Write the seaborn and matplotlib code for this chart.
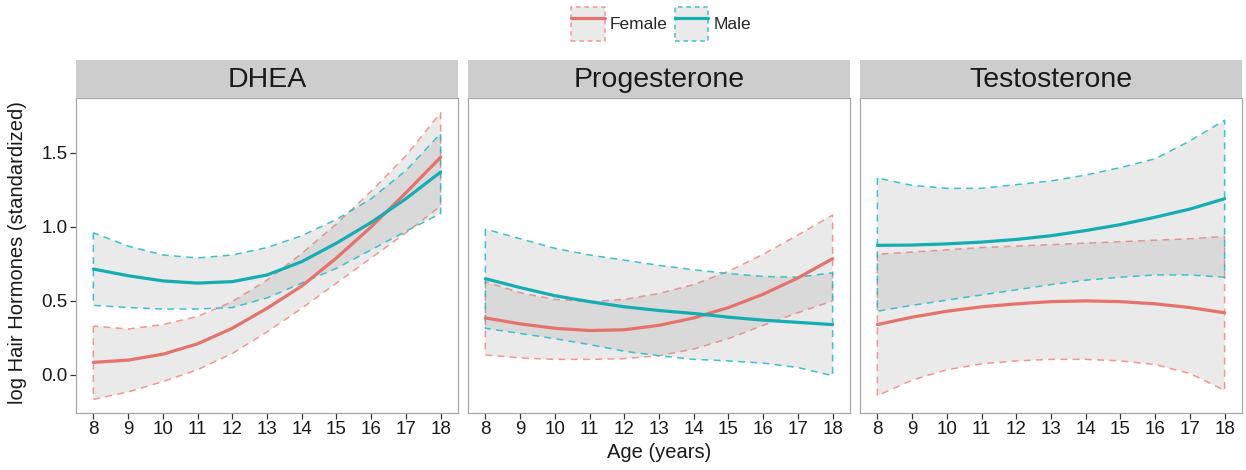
import numpy as np
import pandas as pd
import matplotlib
matplotlib.use("Agg")
import matplotlib.pyplot as plt
from matplotlib.patches import Patch
from matplotlib.lines import Line2D
import seaborn as sns

# ---------------- data ----------------
ages = [8, 9, 10, 11, 12, 13, 14, 15, 16, 17, 18]
hormones = ["DHEA", "Progesterone", "Testosterone"]
sexes = ["Female", "Male"]

# DHEA
dhea_f_mean = [0.085, 0.10, 0.14, 0.21, 0.315, 0.45, 0.60, 0.79, 1.00, 1.23, 1.47]
dhea_f_lo   = [-0.165, -0.115, -0.045, 0.035, 0.145, 0.29, 0.45, 0.62, 0.79, 0.96, 1.14]
dhea_f_hi   = [0.33, 0.31, 0.34, 0.395, 0.495, 0.64, 0.82, 1.02, 1.24, 1.48, 1.77]
dhea_m_mean = [0.715, 0.67, 0.635, 0.62, 0.63, 0.675, 0.765, 0.89, 1.03, 1.19, 1.37]
dhea_m_lo   = [0.47, 0.455, 0.445, 0.445, 0.455, 0.52, 0.62, 0.72, 0.845, 0.97, 1.09]
dhea_m_hi   = [0.96, 0.87, 0.81, 0.79, 0.81, 0.86, 0.94, 1.05, 1.19, 1.38, 1.63]

# Progesterone
prog_f_mean = [0.385, 0.345, 0.315, 0.30, 0.305, 0.335, 0.385, 0.455, 0.545, 0.655, 0.785]
prog_f_lo   = [0.135, 0.115, 0.105, 0.105, 0.11, 0.13, 0.175, 0.245, 0.335, 0.42, 0.50]
prog_f_hi   = [0.63, 0.555, 0.51, 0.495, 0.51, 0.55, 0.61, 0.70, 0.815, 0.945, 1.08]
prog_m_mean = [0.65, 0.59, 0.535, 0.495, 0.46, 0.435, 0.415, 0.39, 0.37, 0.355, 0.34]
prog_m_lo   = [0.315, 0.28, 0.245, 0.205, 0.16, 0.13, 0.105, 0.095, 0.08, 0.05, -0.005]
prog_m_hi   = [0.985, 0.92, 0.855, 0.81, 0.775, 0.74, 0.71, 0.685, 0.665, 0.66, 0.69]

# Testosterone
test_f_mean = [0.34, 0.39, 0.43, 0.46, 0.48, 0.495, 0.50, 0.495, 0.48, 0.455, 0.42]
test_f_lo   = [-0.14, -0.035, 0.035, 0.075, 0.095, 0.105, 0.105, 0.095, 0.07, 0.01, -0.105]
test_f_hi   = [0.815, 0.83, 0.845, 0.86, 0.87, 0.88, 0.89, 0.90, 0.91, 0.92, 0.935]
test_m_mean = [0.875, 0.877, 0.885, 0.897, 0.915, 0.94, 0.975, 1.015, 1.065, 1.12, 1.19]
test_m_lo   = [0.43, 0.47, 0.505, 0.54, 0.575, 0.61, 0.64, 0.66, 0.675, 0.675, 0.66]
test_m_hi   = [1.33, 1.28, 1.26, 1.26, 1.285, 1.31, 1.35, 1.40, 1.46, 1.58, 1.72]

x_ticks = [8, 9, 10, 11, 12, 13, 14, 15, 16, 17, 18]
y_ticks = [0.0, 0.5, 1.0, 1.5]
y_tick_labels = ["0.0", "0.5", "1.0", "1.5"]

series = {
    ("DHEA", "Female"): (dhea_f_mean, dhea_f_lo, dhea_f_hi),
    ("DHEA", "Male"): (dhea_m_mean, dhea_m_lo, dhea_m_hi),
    ("Progesterone", "Female"): (prog_f_mean, prog_f_lo, prog_f_hi),
    ("Progesterone", "Male"): (prog_m_mean, prog_m_lo, prog_m_hi),
    ("Testosterone", "Female"): (test_f_mean, test_f_lo, test_f_hi),
    ("Testosterone", "Male"): (test_m_mean, test_m_lo, test_m_hi),
}

rows = []
for (h, s), (m, lo, hi) in series.items():
    for a, mv, lv, hv in zip(ages, m, lo, hi):
        rows.append(dict(hormone=h, sex=s, age=a, mean=mv, lo=lv, hi=hv))
df = pd.DataFrame(rows)

# ---------------- style ----------------
sns.set_style("white")
plt.rcParams["font.family"] = ["Liberation Sans", "DejaVu Sans"]

line_cols = {"Female": "#E5736B", "Male": "#14ADB3"}
edge_cols = {"Female": (0.95, 0.55, 0.53, 0.9), "Male": (0.15, 0.75, 0.77, 0.9)}
ribbon_fill = (0.6, 0.6, 0.6, 0.2)
dash = (0, (4.5, 3.5))

W, H = 1246, 470
fig = plt.figure(figsize=(W / 100, H / 100), dpi=100)

panel_left = [76, 468, 860]
panel_w = 382
p_top, p_bot = 98, 413
s_top = 60

ylim = (-0.257, 1.87)
xlim = (7.5, 18.5)

for i, h in enumerate(hormones):
    L = panel_left[i]
    ax = fig.add_axes([L / W, (H - p_bot) / H, panel_w / W, (p_bot - p_top) / H])
    sub = df[df.hormone == h]
    for s in sexes:
        d = sub[sub.sex == s]
        ax.fill_between(d["age"], d["lo"], d["hi"], facecolor=ribbon_fill,
                        edgecolor=edge_cols[s], linestyle=dash, linewidth=1.1,
                        zorder=1)
    sns.lineplot(data=sub, x="age", y="mean", hue="sex", hue_order=sexes,
                 palette=line_cols, linewidth=2.3, legend=False, ax=ax,
                 estimator=None, sort=True, zorder=3)
    ax.set_xlim(*xlim)
    ax.set_ylim(*ylim)
    ax.set_xticks(x_ticks)
    ax.set_xticklabels([str(t) for t in x_ticks], fontsize=13.5, color="#1a1a1a")
    if i == 0:
        ax.set_yticks(y_ticks)
        ax.set_yticklabels(y_tick_labels, fontsize=13.5, color="#1a1a1a")
        ax.tick_params(axis="y", left=True, length=4, width=0.9,
                       color="#333333", pad=2)
    else:
        ax.set_yticks([])
    ax.tick_params(axis="x", bottom=True, length=4, width=0.9,
                   color="#333333", pad=2)
    ax.set_xlabel("")
    ax.set_ylabel("")
    ax.set_facecolor("white")
    for sp in ax.spines.values():
        sp.set_color("#A8A8A8")
        sp.set_linewidth(0.9)
    ax.grid(False)

    # strip
    sax = fig.add_axes([L / W, (H - p_top) / H, panel_w / W, (p_top - s_top) / H])
    sax.set_facecolor("#CDCDCD")
    sax.set_xticks([])
    sax.set_yticks([])
    for sp in sax.spines.values():
        sp.set_visible(False)
    sax.text(0.5, 0.47, h, ha="center", va="center", fontsize=20.5,
             color="#1a1a1a", transform=sax.transAxes)

fig.text(18 / W, 1 - 253 / H, "log Hair Hormones (standardized)", rotation=90,
         ha="center", va="center", fontsize=14.5, color="#1a1a1a")
fig.text(659 / W, 1 - 452 / H, "Age (years)", ha="center", va="center",
         fontsize=14.5, color="#1a1a1a")

handles = []
for s in sexes:
    p = Patch(facecolor=ribbon_fill, edgecolor=edge_cols[s], linestyle=(0, (3, 2.5)),
              linewidth=1.1)
    l = Line2D([], [], color=line_cols[s], linewidth=2.3)
    handles.append((p, l))
leg = fig.legend(handles, sexes, loc="center", bbox_to_anchor=(661 / W, 1 - 24 / H),
                 ncol=2, frameon=False, fontsize=12.5, handlelength=1.95,
                 handleheight=2.7, handletextpad=0.3, columnspacing=0.4,
                 borderpad=0.1)

fig.savefig("out.png", dpi=100)
